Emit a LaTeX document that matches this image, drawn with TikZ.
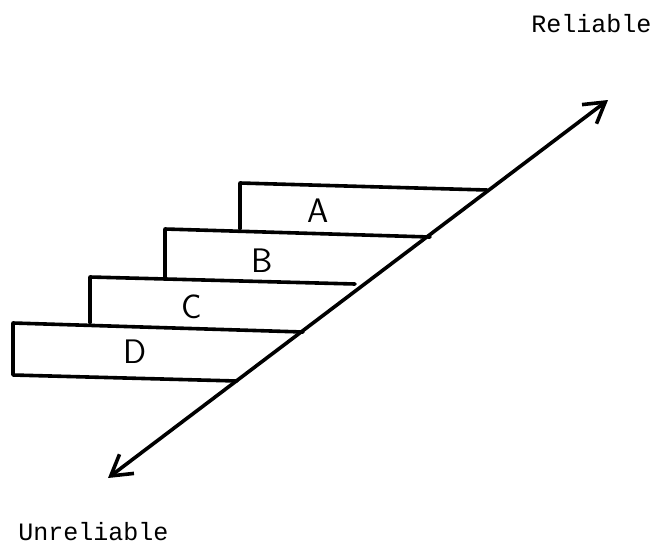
\documentclass[tikz,border=0pt]{standalone}
\usepackage{fontspec}
\setmonofont{Liberation Mono}
\usetikzlibrary{arrows.meta}
\tikzset{
  stair/.style={line width=1.8pt,line cap=round,line join=round},
  scalearrow/.style={line width=1.8pt,{Straight Barb[length=10pt,width=12pt,line width=1.8pt]}-{Straight Barb[length=10pt,width=12pt,line width=1.8pt]}},
  steplabel/.style={font=\fontsize{17}{20}\selectfont\sffamily},
  endlabel/.style={font=\fontsize{12.5}{15}\selectfont\ttfamily,inner sep=0pt}
}

\begin{document}
\begin{tikzpicture}[x=0.5pt,y=-0.5pt]
        % Frame
        \useasboundingbox (0,0) rectangle (657,552);
        % Reliability scale
        \coordinate (low) at (108,478);
        \coordinate (high) at (608,100);
        \draw[scalearrow] (low) -- (high);
        % Steps
        \draw[stair] (487,190) -- (240,183) -- (240,229);
        \draw[stair] (430,237) -- (165,229) -- (165,277);
        \draw[stair] (355,284) -- (90,277) -- (90,323);
        \draw[stair] (303,332) -- (13,323) -- (13,375) -- (237,381);
        % Labels
        \node[steplabel] (a) at (318,211) {A};
        \node[steplabel] (b) at (262,261) {B};
        \node[steplabel] (c) at (192,307) {C};
        \node[steplabel] (d) at (135,352) {D};
        \node[endlabel,anchor=west] (rel) at (531,24) {Reliable};
        \node[endlabel,anchor=west] (unrel) at (18,532) {Unreliable};
      \end{tikzpicture}
\end{document}
